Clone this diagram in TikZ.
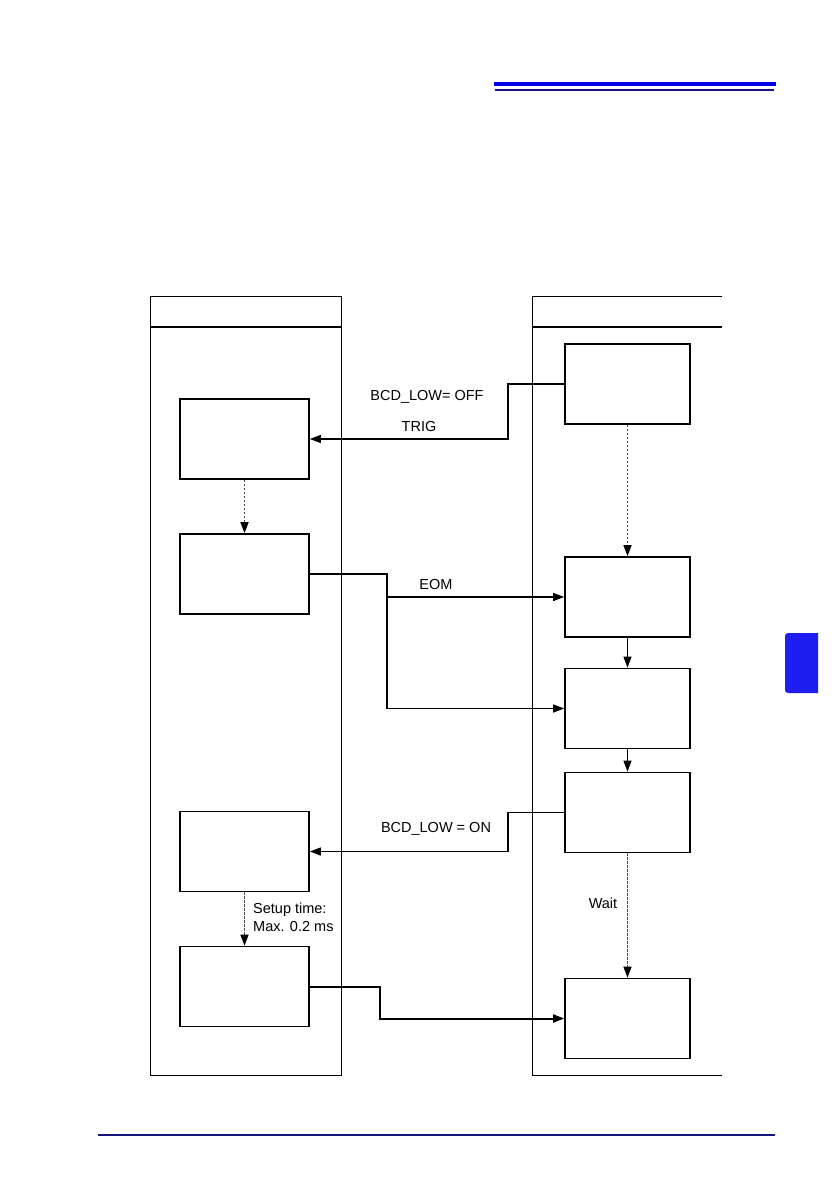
\documentclass[tikz,border=0pt]{standalone}
\usepackage{fontspec}
\newfontfamily\labelfont{Liberation Sans}
\usetikzlibrary{arrows.meta}
\definecolor{headblue}{RGB}{0,0,230}
\definecolor{navyline}{RGB}{20,20,130}
\definecolor{tabblue}{RGB}{30,30,240}
\tikzset{
  stepbox/.style={draw,line width=1.7pt,minimum width=129pt,minimum height=80pt,inner sep=0pt},
  lane/.style={draw,line width=1pt},
  signal/.style={line width=1.2pt,-{Triangle[length=11pt,width=8pt]}},
  waitline/.style={gray!60!black,line width=1.6pt,dash pattern=on 2.5pt off 1.5pt,
    -{Triangle[length=11pt,width=8pt,color=black]}},
  flow/.style={line width=1.2pt,-{Triangle[length=11pt,width=8pt]}},
  lbl/.style={font=\labelfont\fontsize{14.5}{18}\selectfont,inner sep=0pt}
}
\begin{document}
\begin{tikzpicture}[x=1pt,y=-1pt]
\useasboundingbox (0,0) rectangle (832,1180);
% page decoration
\draw[headblue,line width=4pt] (494,84) -- (776,84);
\draw[navyline,line width=2pt] (495,90) -- (774,90);
\draw[navyline,line width=1.3pt] (98,1135) -- (775,1135);
\fill[tabblue] (818,633) [rounded corners=3pt] -- (785,633) -- (785,693) [sharp corners] -- (818,693) -- cycle;
% lanes
\draw[lane] (150,296) rectangle (341,1075);
\draw[line width=2.4pt] (150,327) -- (341,327);
\draw[lane] (722,296) -- (532,296) -- (532,1075) -- (722,1075);
\draw[line width=2.4pt] (532,327) -- (722,327);
% left side
\node[stepbox] (L1) at (244.5,439) {};
\node[stepbox] (L2) at (244.5,574) {};
\node[stepbox] (L3) at (244.5,851.5) {};
\node[stepbox] (L4) at (244.5,986.5) {};
% right side
\node[stepbox,minimum width=125pt] (R1) at (627.5,384) {};
\node[stepbox,minimum width=125pt] (R2) at (627.5,597) {};
\node[stepbox,minimum width=125pt] (R3) at (627.5,708.5) {};
\node[stepbox,minimum width=125pt] (R4) at (627.5,812.5) {};
\node[stepbox,minimum width=125pt] (R5) at (627.5,1018.5) {};
% TRIG
\draw[signal] (R1.west) -- (508,384) |- (L1.east);
\node[lbl] (off) at (427,397) {BCD\_LOW= OFF};
\node[lbl] (trig) at (419,427) {TRIG};
\draw[waitline] (L1.south) -- (L2.north);
\draw[waitline] (R1.south) -- (R2.north);
% EOM
\coordinate (split) at (387,574);
\draw[signal] (L2.east) -- (split) |- (R2.west);
\draw[signal] (split) |- (R3.west);
\node[lbl] (eom) at (436,585) {EOM};
\draw[flow] (R2.south) -- (R3.north);
\draw[flow] (R3.south) -- (R4.north);
% BCD_LOW on
\draw[signal] (R4.west) -- (508,812.5) |- (L3.east);
\node[lbl] (on) at (436,829) {BCD\_LOW = ON};
\draw[waitline] (L3.south) -- (L4.north);
\node[lbl,anchor=west,align=left] (setup) at (253,917) {Setup time:\\Max. 0.2 ms};
\draw[waitline] (R4.south) -- (R5.north);
\node[lbl] (wait) at (603,903) {Wait};
\draw[signal,line width=2pt] (L4.east) -- (380,986.5) |- (R5.west);
\end{tikzpicture}
\end{document}
